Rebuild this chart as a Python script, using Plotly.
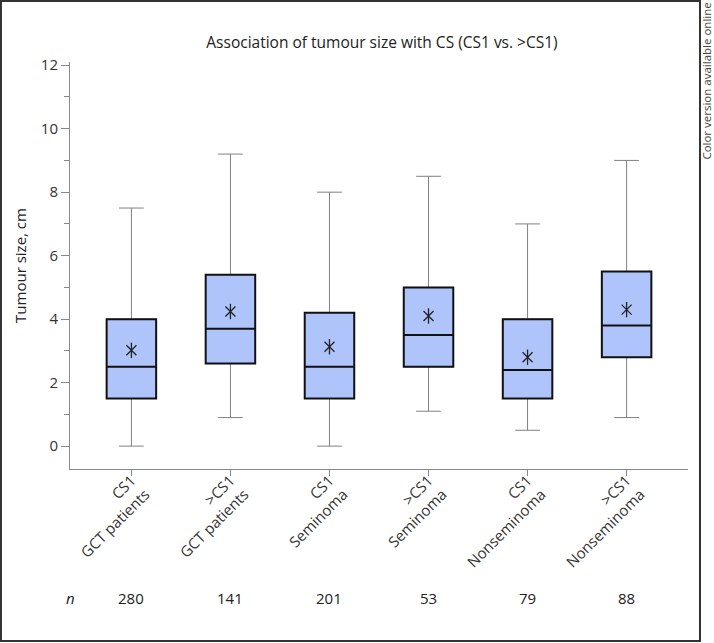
import plotly.graph_objects as go

categories = ["CS1<br>GCT patients", ">CS1<br>GCT patients", "CS1<br>Seminoma",
              ">CS1<br>Seminoma", "CS1<br>Nonseminoma", ">CS1<br>Nonseminoma"]
q1 = [1.5, 2.6, 1.5, 2.5, 1.5, 2.8]
median = [2.5, 3.7, 2.5, 3.5, 2.4, 3.8]
q3 = [4.0, 5.4, 4.2, 5.0, 4.0, 5.5]
lower = [0.0, 0.9, 0.0, 1.1, 0.5, 0.9]
upper = [7.5, 9.2, 8.0, 8.5, 7.0, 9.0]
mean = [3.02, 4.24, 3.13, 4.1, 2.8, 4.3]
n_values = ["280", "141", "201", "53", "79", "88"]

FONT = "Open Sans"
fig = go.Figure()

# whiskers (gray)
fig.add_trace(go.Box(
    x=categories, q1=q1, median=median, q3=q3,
    lowerfence=lower, upperfence=upper,
    width=0.5, whiskerwidth=0.5,
    line=dict(color="#808080", width=1),
    fillcolor="rgba(0,0,0,0)", hoverinfo="skip", showlegend=False,
))
# boxes (black outline, filled)
fig.add_trace(go.Box(
    x=categories, q1=q1, median=median, q3=q3,
    lowerfence=q1, upperfence=q3,
    width=0.5, whiskerwidth=0,
    line=dict(color="#111111", width=2),
    fillcolor="#b0c4fc", showlegend=False,
))
# mean markers (X + vertical bar)
for sym, sz in [("x-thin-open", 10), ("line-ns-open", 11)]:
    fig.add_trace(go.Scatter(
        x=categories, y=mean, mode="markers",
        marker=dict(symbol=sym, size=sz,
                    line=dict(color="#222222", width=1.3), color="#222222"),
        showlegend=False, hoverinfo="skip",
    ))

# n row
fig.add_annotation(x=-0.62, xref="x", y=-0.317, yref="paper", text="<i>n</i>",
                   showarrow=False, xanchor="center", yanchor="middle",
                   font=dict(family=FONT, size=15, color="#222"))
for c, nv in zip(categories, n_values):
    fig.add_annotation(x=c, xref="x", y=-0.317, yref="paper", text=nv,
                       showarrow=False, xanchor="center", yanchor="middle",
                       font=dict(family=FONT, size=15, color="#222"))

# frame
fig.add_shape(type="rect", xref="paper", yref="paper",
              x0=-0.1117, x1=1.0194, y0=-0.4226, y1=1.1499,
              line=dict(color="#333333", width=2))
fig.add_annotation(x=1.0307, xref="paper", y=1.152, yref="paper",
                   text="Color version available online", textangle=-90,
                   showarrow=False, xanchor="center", yanchor="top",
                   font=dict(family=FONT, size=11.5, color="#444"))

fig.update_layout(
    width=714, height=643,
    margin=dict(l=70, r=26, t=62, b=174),
    paper_bgcolor="white", plot_bgcolor="white",
    title=dict(text="Association of tumour size with CS (CS1 vs. >CS1)",
               x=(382) / 714, xanchor="center", y=1 - 43 / 643, yanchor="middle",
               font=dict(family=FONT, size=15.5, color="#222")),
    font=dict(family=FONT, size=15, color="#333"),
    boxmode="overlay",
)
fig.update_xaxes(
    type="category", range=[-0.62, 5.62],
    showline=True, linecolor="#888", linewidth=1,
    ticks="outside", ticklen=6, tickcolor="#888",
    tickangle=-45, tickfont=dict(family=FONT, size=15, color="#333"),
    ticklabelstandoff=-10,
    showgrid=False, zeroline=False,
)
fig.update_yaxes(
    range=[-0.72, 12.1],
    tickvals=[0, 2, 4, 6, 8, 10, 12],
    showline=True, linecolor="#888", linewidth=1,
    ticks="outside", ticklen=8, tickcolor="#888",
    minor=dict(tickvals=[1, 3, 5, 7, 9, 11], ticks="outside", ticklen=5, tickcolor="#888"),
    tickfont=dict(family=FONT, size=15, color="#333"),
    title=dict(text="Tumour size, cm", font=dict(family=FONT, size=15, color="#222"), standoff=10),
    showgrid=False, zeroline=False,
)

fig.write_html("out.html", config={"displayModeBar": False},
               post_script="document.body.style.margin='0';")
